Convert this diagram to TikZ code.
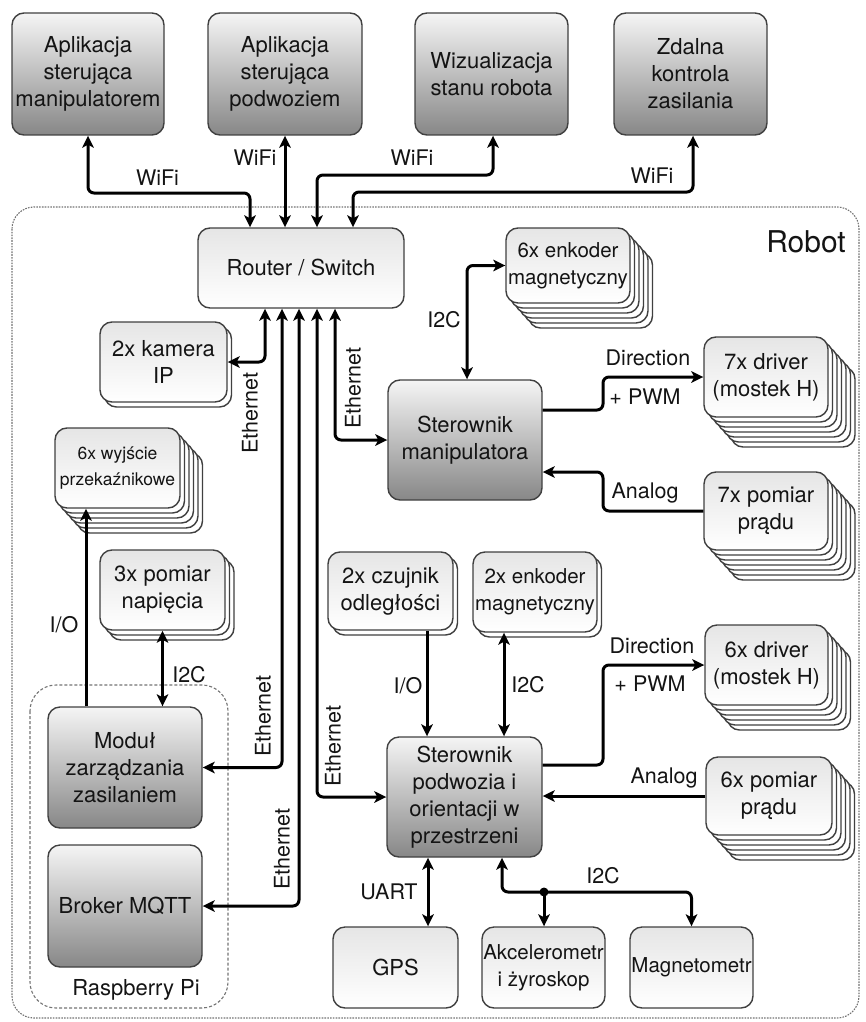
\documentclass[tikz,border=0pt]{standalone}
\usepackage{fontspec}
\setmainfont{TeX Gyre Heros}
\usetikzlibrary{arrows.meta,shadows}

\definecolor{boxline}{gray}{0.25}
\definecolor{framegray}{gray}{0.45}

\tikzset{
  base/.style={rounded corners=12pt, draw=boxline, line width=1.4pt, align=center,
    inner sep=0pt, text=black!92, font=\fontsize{22}{27}\selectfont},
  graybox/.style={base, top color=black!4, bottom color=black!47},
  whitebox/.style={base, top color=black!10, bottom color=white},
  fontM/.style={font=\fontsize{20.5}{27}\selectfont},
  fontS/.style={font=\fontsize{17.5}{26.5}\selectfont},
  lay1/.style={general shadow={shadow xshift=4.5pt,shadow yshift=-5pt,fill=white,draw=boxline,line width=1.4pt}},
  lay2/.style={general shadow={shadow xshift=9pt,shadow yshift=-10pt,fill=white,draw=boxline,line width=1.4pt}},
  lay3/.style={general shadow={shadow xshift=13.5pt,shadow yshift=-15pt,fill=white,draw=boxline,line width=1.4pt}},
  lay4/.style={general shadow={shadow xshift=18pt,shadow yshift=-20pt,fill=white,draw=boxline,line width=1.4pt}},
  lay5/.style={general shadow={shadow xshift=22.5pt,shadow yshift=-25pt,fill=white,draw=boxline,line width=1.4pt}},
  lay6/.style={general shadow={shadow xshift=27pt,shadow yshift=-30pt,fill=white,draw=boxline,line width=1.4pt}},
  stackA/.style={lay1},
  stackB/.style={lay2,lay1},
  stackE/.style={lay5,lay4,lay3,lay2,lay1},
  stackF/.style={lay6,lay5,lay4,lay3,lay2,lay1},
  link/.style={line width=3pt, rounded corners=6pt, black},
  tip/.tip={Stealth[length=12pt,width=11.5pt,inset=3pt]},
  bi/.style={link, tip-tip},
  uni/.style={link, -tip},
  lbl/.style={font=\fontsize{21.5}{26}\selectfont, inner sep=0pt, text=black!92},
  vlbl/.style={lbl, rotate=90},
  framerobot/.style={draw=framegray, line width=1.1pt, dash pattern=on 1.6pt off 1.2pt, rounded corners=22pt},
  framepi/.style={draw=framegray, line width=1.1pt, dash pattern=on 3pt off 2pt, rounded corners=26pt},
}

\begin{document}
\begin{tikzpicture}[x=1pt,y=-1pt]
\useasboundingbox (0,0) rectangle (866,1022);

% enclosing frames
\draw[framerobot] (12,207) rectangle (859,1018);
\node[lbl, font=\fontsize{30}{34}\selectfont] (robotlbl) at (806,242) {Robot};
\draw[framepi] (30,685) rectangle (228,1008);
\node[lbl, font=\fontsize{22}{26}\selectfont] (pilbl) at (136,990) {Raspberry Pi};

% remote applications
\node[graybox, minimum width=152pt, minimum height=122pt] (app1) at (88,74) {Aplikacja\\sterująca\\manipulatorem};
\node[graybox, minimum width=154pt, minimum height=122pt] (app2) at (285,74) {Aplikacja\\sterująca\\podwoziem};
\node[graybox, minimum width=153pt, minimum height=122pt] (app3) at (491.5,74) {Wizualizacja\\stanu robota};
\node[graybox, minimum width=153pt, minimum height=122pt] (app4) at (690.5,74) {Zdalna\\kontrola\\zasilania};

% on-board devices
\node[whitebox, minimum width=206pt, minimum height=80pt] (router) at (301,268) {Router / Switch};
\node[whitebox, stackA, minimum width=127pt, minimum height=80pt] (cam) at (163.5,362) {2x kamera\\IP};
\node[whitebox, stackE, fontM, minimum width=124pt, minimum height=75pt] (enk6) at (568,265.5) {6x enkoder\\magnetyczny};
\node[graybox, minimum width=154pt, minimum height=120pt] (manip) at (465,440) {Sterownik\\manipulatora};
\node[whitebox, stackF, minimum width=124pt, minimum height=80pt] (drv7) at (766,377) {7x driver\\(mostek H)};
\node[whitebox, stackF, minimum width=124pt, minimum height=78pt] (pom7) at (766,511) {7x pomiar\\prądu};
\node[whitebox, stackE, fontS, minimum width=125pt, minimum height=80pt] (wyj) at (117.5,468) {6x wyjście\\przekaźnikowe};
\node[whitebox, stackB, minimum width=125pt, minimum height=80pt] (nap) at (162.5,590) {3x pomiar\\napięcia};
\node[graybox, minimum width=154pt, minimum height=121pt] (modul) at (125,767.5) {Moduł\\zarządzania\\zasilaniem};
\node[graybox, minimum width=154pt, minimum height=122pt] (broker) at (125,906) {Broker MQTT};
\node[whitebox, stackA, minimum width=125pt, minimum height=78pt] (czuj) at (390.5,591) {2x czujnik\\odległości};
\node[whitebox, stackA, fontM, minimum width=124pt, minimum height=80pt] (enk2) at (535,592) {2x enkoder\\magnetyczny};
\node[graybox, minimum width=155pt, minimum height=120pt] (podw) at (464.5,797) {Sterownik\\podwozia i\\orientacji w\\przestrzeni};
\node[whitebox, stackE, minimum width=123pt, minimum height=80pt] (drv6) at (766.5,665) {6x driver\\(mostek H)};
\node[whitebox, stackE, minimum width=126pt, minimum height=78pt] (pom6) at (769,796) {6x pomiar\\prądu};
\node[whitebox, minimum width=125pt, minimum height=81pt] (gps) at (395.5,967.5) {GPS};
\node[whitebox, fontM, minimum width=123pt, minimum height=81pt] (akc) at (543.5,967.5) {Akcelerometr\\i żyroskop};
\node[whitebox, fontM, minimum width=123pt, minimum height=81pt] (magn) at (691.5,967.5) {Magnetometr};

% WiFi links
\draw[bi] (app1.south) |- (250,193) -- (router.north -| 250,0);
\draw[bi] (app2.south) -- (router.north -| app2.south);
\draw[bi] (router.north -| 317,0) |- (493,175) -- (app3.south -| 493,0);
\draw[bi] (router.north -| 353,0) |- (693,192) -- (app4.south -| 693,0);
\node[lbl] (w1) at (157.5,178) {WiFi};
\node[lbl] (w2) at (255,158) {WiFi};
\node[lbl] (w3) at (412,158) {WiFi};
\node[lbl] (w4) at (652,176) {WiFi};

% Ethernet links
\draw[bi] (router.south -| 265,0) |- (cam.east);
\draw[bi] (router.south -| 282,0) |- (modul.east);
\draw[bi] (router.south -| 299,0) |- (broker.east);
\draw[bi] (router.south -| 317,0) |- (podw.west);
\draw[bi] (router.south -| 335,0) |- (manip.west);
\node[vlbl] (e1) at (250,413) {Ethernet};
\node[vlbl] (e2) at (263,716) {Ethernet};
\node[vlbl] (e3) at (282,849) {Ethernet};
\node[vlbl] (e4) at (333,746) {Ethernet};
\node[vlbl] (e5) at (353,388) {Ethernet};

% manipulator controller
\draw[bi] (manip.north -| 467,0) |- (enk6.west);
\node[lbl] (i2c1) at (444,320) {I2C};
\draw[uni] (manip.east |- 0,410) -- (603,410) |- (drv7.west);
\node[lbl] (dir1) at (648,358) {Direction};
\node[lbl] (pwm1) at (645,397) {+ PWM};
\draw[uni] (pom7.west) -- (603,511) |- (manip.east |- 0,472);
\node[lbl] (an1) at (645,493) {Analog};

% power management module
\draw[uni] (modul.north -| 86,0) -- (wyj.south -| 86,0);
\node[lbl] (io1) at (64,625) {I/O};
\draw[bi] (nap.south) -- (modul.north -| nap.south);
\node[lbl] (i2c2) at (189,675) {I2C};

% chassis controller
\draw[uni] (czuj.south -| 427,0) -- (podw.north -| 427,0);
\node[lbl] (io2) at (408,686) {I/O};
\draw[bi] (enk2.south -| 504,0) -- (podw.north -| 504,0);
\node[lbl] (i2c3) at (528,685) {I2C};
\draw[uni] (podw.east |- 0,765) -- (603,765) |- (drv6.west);
\node[lbl] (dir2) at (652,646) {Direction};
\node[lbl] (pwm2) at (650,684) {+ PWM};
\draw[uni] (pom6.west) -- (podw.east |- pom6.west);
\node[lbl] (an2) at (664,778) {Analog};

% sensors below
\draw[bi] (podw.south -| 428,0) -- (gps.north -| 428,0);
\node[lbl] (uart) at (389,892) {UART};
\coordinate (jct) at (544,892);
\draw[bi] (podw.south -| 502,0) |- (magn.north |- jct) -- (magn.north);
\draw[uni] (jct) -- (akc.north -| jct);
\fill (jct) circle (4.5pt);
\node[lbl] (i2c4) at (603,876) {I2C};
\end{tikzpicture}
\end{document}
